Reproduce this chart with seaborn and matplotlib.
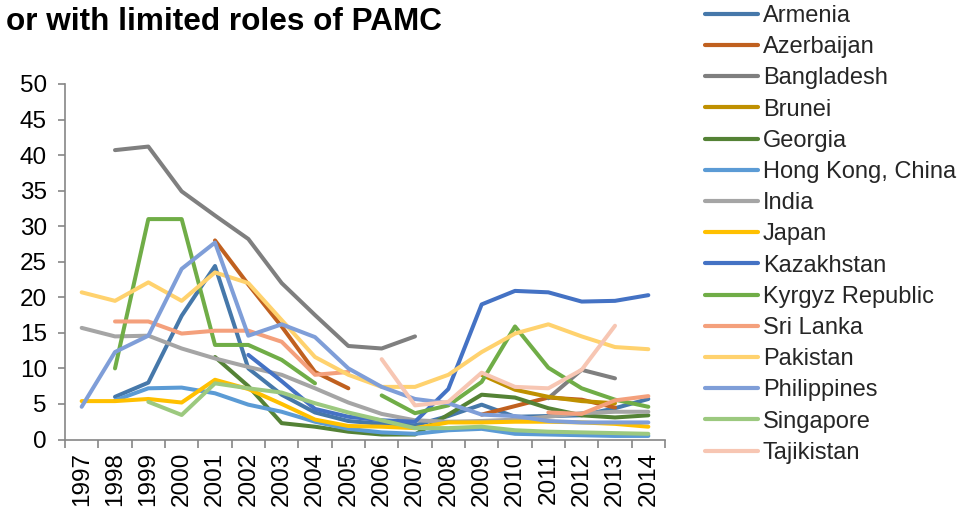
import numpy as np
import pandas as pd
import matplotlib
matplotlib.use("Agg")
import matplotlib.pyplot as plt
import seaborn as sns

nan = np.nan
years = list(range(1997, 2015))

armenia     = [nan, 6.0, 8.0, 17.4, 24.4, 10.0, 6.3, 3.8, 2.6, 2.2, 2.0, 3.3, 4.9, 3.2, 3.3, 3.4, 4.4, 5.7]
azerbaijan  = [nan, nan, nan, nan, 28.0, 21.8, 15.9, 9.5, 7.2, nan, nan, nan, 3.5, 4.7, 5.9, 5.6, 4.5, nan]
bangladesh  = [nan, 40.7, 41.2, 34.9, 31.5, 28.2, 22.0, 17.5, 13.15, 12.8, 14.5, nan, nan, nan, 5.8, 9.8, 8.6, nan]
brunei      = [nan] * 12 + [9.1, 7.0, 6.0, 5.4, 5.1, nan]
georgia     = [nan, nan, nan, nan, 11.6, 7.5, 2.3, 1.8, 1.1, 0.7, 0.7, 3.5, 6.3, 5.9, 4.4, 3.4, 3.1, 3.4]
hongkong    = [nan, 5.5, 7.2, 7.3, 6.5, 4.9, 3.9, 2.5, 1.5, 1.0, 0.8, 1.3, 1.5, 0.8, 0.7, 0.6, 0.5, 0.5]
india       = [15.7, 14.5, 14.6, 12.8, 11.4, 10.2, 9.1, 7.2, 5.2, 3.6, 2.7, 2.5, 2.6, 2.8, 3.2, 3.7, 3.9, 3.9]
japan       = [5.4, 5.4, 5.7, 5.2, 8.4, 7.1, 5.0, 2.8, 1.9, 1.8, 1.6, 2.4, 2.4, 2.5, 2.5, 2.4, 2.2, 1.8]
kazakhstan  = [nan] * 5 + [11.9, 8.2, 4.3, 3.2, 2.7, 2.5, 7.1, 19.0, 20.9, 20.7, 19.4, 19.5, 20.3]
kyrgyz      = [nan, 10.0, 31.0, 31.0, 13.3, 13.3, 11.2, 7.9, nan, 6.2, 3.7, 4.8, 8.1, 15.9, 10.1, 7.2, 5.6, 4.6]
srilanka    = [nan, 16.6, 16.6, 14.9, 15.3, 15.3, 13.75, 9.1, 9.5, nan, nan, nan, nan, nan, 3.8, 3.6, 5.5, 6.1]
pakistan    = [20.7, 19.5, 22.1, 19.5, 23.5, 22.0, 16.8, 11.6, 9.1, 7.4, 7.4, 9.1, 12.3, 14.9, 16.2, 14.5, 13.0, 12.7]
philippines = [4.6, 12.3, 14.6, 24.0, 27.7, 14.6, 16.2, 14.4, 10.0, 7.4, 5.7, 5.1, 3.5, 3.3, 2.6, 2.4, 2.4, 2.4]
singapore   = [nan, nan, 5.3, 3.45, 7.9, 7.2, 6.6, 5.1, 3.8, 2.7, 1.6, 1.6, 1.8, 1.3, 1.1, 1.0, 0.9, 0.8]
tajikistan  = [nan] * 9 + [11.3, 4.8, 5.3, 9.4, 7.4, 7.2, 9.8, 16.0, nan]

countries = ["Armenia", "Azerbaijan", "Bangladesh", "Brunei", "Georgia",
             "Hong Kong, China", "India", "Japan", "Kazakhstan", "Kyrgyz Republic",
             "Sri Lanka", "Pakistan", "Philippines", "Singapore", "Tajikistan"]
series = [armenia, azerbaijan, bangladesh, brunei, georgia, hongkong, india, japan,
          kazakhstan, kyrgyz, srilanka, pakistan, philippines, singapore, tajikistan]
colors = ["#4678AA", "#C0601F", "#7F7F7F", "#BF9000", "#548235",
          "#5B9BD5", "#A5A5A5", "#FFC000", "#4472C4", "#70AD47",
          "#F4A07C", "#FFD26E", "#7F9ED8", "#9CC97F", "#F7C6B3"]

# long table with segment ids so that gaps stay gaps
rows = []
for name, vals in zip(countries, series):
    seg = 0
    prev_ok = False
    for y, v in zip(years, vals):
        ok = not np.isnan(v)
        if ok:
            if not prev_ok:
                seg += 1
            rows.append({"Year": y, "Value": v, "Country": name, "seg": f"{name}_{seg}"})
        prev_ok = ok
df = pd.DataFrame(rows)

sns.set_theme(style="white")
plt.rcParams["font.family"] = ["Liberation Sans", "DejaVu Sans"]

W, H = 959, 519
fig = plt.figure(figsize=(W / 100, H / 100), dpi=100)
ax = fig.add_axes([65 / W, 1 - 439.5 / H, 600 / W, (439.5 - 84) / H])

sns.lineplot(data=df, x="Year", y="Value", hue="Country", hue_order=countries,
             palette=dict(zip(countries, colors)), units="seg", estimator=None,
             linewidth=2.9, ax=ax, legend=True)

ax.set_xlim(1996.5, 2014.5)
ax.set_ylim(0, 50)
ax.set_xlabel("")
ax.set_ylabel("")
ax.set_yticks(np.arange(0, 51, 5))
ax.set_xticks(years)
ax.set_xticklabels([str(y) for y in years], rotation=90)
ax.set_xticks(np.arange(1996.5, 2015, 1), minor=True)

axis_col = "#868686"
for s in ["top", "right"]:
    ax.spines[s].set_visible(False)
for s in ["left", "bottom"]:
    ax.spines[s].set_color(axis_col)
    ax.spines[s].set_linewidth(1.2)

ax.tick_params(axis="x", which="major", length=0, pad=9, labelsize=17.5, colors="black")
ax.tick_params(axis="x", which="minor", length=6, width=1.2, color=axis_col, bottom=True)
ax.tick_params(axis="y", which="major", length=5, width=1.2, color=axis_col,
               pad=8, labelsize=17.5, labelcolor="black", left=True)
ax.grid(False)

handles, labels = ax.get_legend_handles_labels()
ax.get_legend().remove()
for h in handles:
    h.set_linewidth(3.0)
fig.legend(handles, labels, loc="upper left", bbox_to_anchor=(705 / W, 1 - 5 / H),
           frameon=False, fontsize=17, borderpad=0, borderaxespad=0,
           handlelength=2.25, handletextpad=0.2, labelspacing=0.39)

fig.text(6 / W, 1 - 30.5 / H, "or with limited roles of PAMC", fontsize=22.7,
         fontweight="bold", ha="left", va="baseline", color="black")

fig.savefig("out.png", dpi=100)
